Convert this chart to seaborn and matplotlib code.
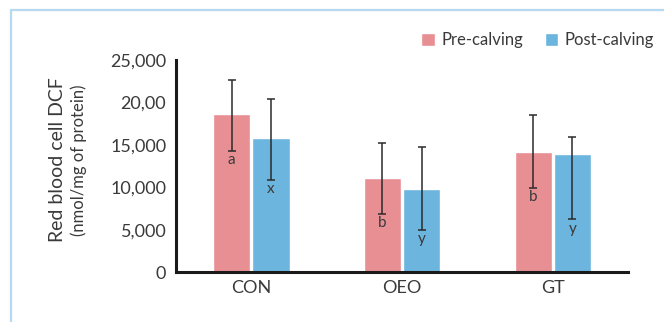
import pandas as pd
import numpy as np
import matplotlib
matplotlib.use("Agg")
import matplotlib.pyplot as plt
import seaborn as sns

# === DADOS ===
groups = ["CON", "OEO", "GT"]
periods = ["Pre-calving", "Post-calving"]
pre_mean = [18600, 11100, 14150]
post_mean = [15800, 9800, 13900]
pre_low = [14300, 6800, 9870]
pre_high = [22600, 15200, 18550]
post_low = [10850, 4950, 6200]
post_high = [20400, 14700, 15900]
pre_letters = ["a", "b", "b"]
post_letters = ["x", "y", "y"]
y_ticks = [0, 5000, 10000, 15000, 20000, 25000]
y_tick_labels = ["0", "5,000", "10,000", "15,000", "20,00", "25,000"]

colors = ["#E88F94", "#6CB5DE"]
text_color = "#3a3a3a"

df = pd.DataFrame({
    "group": groups * 2,
    "period": [periods[0]] * 3 + [periods[1]] * 3,
    "value": pre_mean + post_mean,
    "low": pre_low + post_low,
    "high": pre_high + post_high,
    "letter": pre_letters + post_letters,
})

sns.set_style("white")
plt.rcParams["font.family"] = ["Lato", "DejaVu Sans"]
plt.rcParams["text.color"] = text_color

fig = plt.figure(figsize=(6.64, 3.22), dpi=100)
ax = fig.add_axes([0.265, 0.155, 0.681, 0.659])

sns.barplot(data=df, x="group", y="value", hue="period", order=groups,
            hue_order=periods, palette=colors, width=0.52, gap=0.05,
            errorbar=None, saturation=1, ax=ax, legend=True)

# barras de erro + letras
for i, p in enumerate(periods):
    cont = ax.containers[i]
    sub = df[df["period"] == p].set_index("group").loc[groups]
    for bar, (_, row) in zip(cont, sub.iterrows()):
        xc = bar.get_x() + bar.get_width() / 2
        ax.errorbar([xc], [row["value"]],
                    yerr=[[row["value"] - row["low"]], [row["high"] - row["value"]]],
                    fmt="none", ecolor="#2b2b2b", elinewidth=1.1, capsize=2.7, capthick=1.1)
        ax.annotate(row["letter"], (xc, row["low"]), xytext=(0, -1.5),
                    textcoords="offset points", ha="center", va="top",
                    fontsize=11, color=text_color)

ax.set_xlim(-0.5, 2.5)
ax.set_ylim(0, 25000)
ax.set_yticks(y_ticks)
ax.set_yticklabels(y_tick_labels)
ax.tick_params(axis="both", length=0, labelsize=13, labelcolor=text_color)
ax.tick_params(axis="y", pad=7)
ax.tick_params(axis="x", pad=6)
ax.set_xlabel("")
ax.set_ylabel("")
for s in ["top", "right"]:
    ax.spines[s].set_visible(False)
for s in ["left", "bottom"]:
    ax.spines[s].set_color("#1a1a1a")
    ax.spines[s].set_linewidth(2.2)

fig.text(0.086, 0.503, "Red blood cell DCF", rotation=90, ha="center", va="center",
         fontsize=14, color=text_color)
fig.text(0.118, 0.503, "(nmol/mg of protein)", rotation=90, ha="center", va="center",
         fontsize=12, color=text_color)

handles, labels = ax.get_legend_handles_labels()
ax.get_legend().remove()
leg = fig.legend(handles, labels, loc="center right", bbox_to_anchor=(0.985, 0.876),
                 bbox_transform=fig.transFigure, ncol=2, frameon=False,
                 fontsize=12, handlelength=0.8, handleheight=0.8, handletextpad=0.4,
                 columnspacing=1.3, borderaxespad=0, borderpad=0)
for t in leg.get_texts():
    t.set_color(text_color)

# moldura azul clara
frame = plt.Rectangle((11 / 664, -0.1), 1.2, 1 - 10 / 322 + 0.1, transform=fig.transFigure,
                      fill=False, edgecolor="#B5D9F0", linewidth=1.6, clip_on=False)
fig.add_artist(frame)

plt.savefig("out.png", dpi=100)
plt.close()
